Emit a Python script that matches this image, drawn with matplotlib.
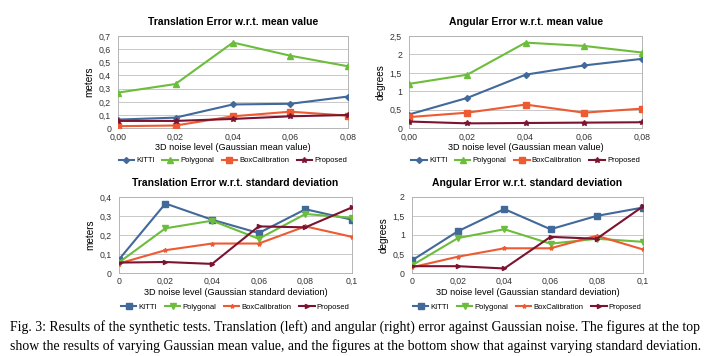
import matplotlib
matplotlib.use('Agg')
from matplotlib import pyplot as plt
from matplotlib.ticker import FuncFormatter

plt.rcParams['font.family'] = 'Liberation Sans'

# noise levels
x_mean = [0.00, 0.02, 0.04, 0.06, 0.08]
x_std = [0.0, 0.02, 0.04, 0.06, 0.08, 0.1]
methods = ['KITTI', 'Polygonal', 'BoxCalibration', 'Proposed']

# translation error (meters) vs mean
trans_mean_kitti = [0.065, 0.08, 0.18, 0.185, 0.24]
trans_mean_poly = [0.27, 0.335, 0.65, 0.55, 0.47]
trans_mean_box = [0.015, 0.02, 0.09, 0.125, 0.095]
trans_mean_prop = [0.055, 0.055, 0.07, 0.09, 0.10]

# angular error (degrees) vs mean
ang_mean_kitti = [0.37, 0.82, 1.45, 1.70, 1.88]
ang_mean_poly = [1.2, 1.45, 2.32, 2.23, 2.05]
ang_mean_box = [0.3, 0.42, 0.64, 0.42, 0.53]
ang_mean_prop = [0.18, 0.13, 0.14, 0.15, 0.16]

# translation error (meters) vs std
trans_std_kitti = [0.07, 0.365, 0.28, 0.21, 0.335, 0.28]
trans_std_poly = [0.055, 0.235, 0.275, 0.18, 0.31, 0.29]
trans_std_box = [0.05, 0.12, 0.155, 0.155, 0.245, 0.19]
trans_std_prop = [0.055, 0.058, 0.048, 0.245, 0.24, 0.345]

# angular error (degrees) vs std
ang_std_kitti = [0.33, 1.1, 1.68, 1.15, 1.5, 1.72]
ang_std_poly = [0.2, 0.92, 1.15, 0.77, 0.9, 0.82]
ang_std_box = [0.15, 0.43, 0.65, 0.65, 0.98, 0.62]
ang_std_prop = [0.18, 0.18, 0.12, 0.95, 0.9, 1.75]

colors = ['#41699a', '#6cbd3c', '#ee5a32', '#7a1430']
markers_top = ['D', '^', 's', '*']
msizes_top = [3, 4, 5, 4]
markers_bot = ['s', 'v', '*', '>']
msizes_bot = [5, 4, 3, 3]

def comma(dec):
    def f(v, pos):
        if dec is None:
            s = ('%.2f' % v).rstrip('0').rstrip('.')
        else:
            s = '%.*f' % (dec, v)
        return s.replace('.', ',')
    return FuncFormatter(f)

fig = plt.figure(figsize=(7.2, 3.56), dpi=100)

panels = [
    ([0.164, 0.640, 0.319, 0.259], x_mean,
     [trans_mean_kitti, trans_mean_poly, trans_mean_box, trans_mean_prop],
     'Translation Error w.r.t. mean value', 'meters', 0.7, 0.1,
     '3D noise level (Gaussian mean value)', True),
    ([0.568, 0.640, 0.324, 0.259], x_mean,
     [ang_mean_kitti, ang_mean_poly, ang_mean_box, ang_mean_prop],
     'Angular Error w.r.t. mean value', 'degrees', 2.5, 0.5,
     '3D noise level (Gaussian mean value)', True),
    ([0.165, 0.233, 0.324, 0.214], x_std,
     [trans_std_kitti, trans_std_poly, trans_std_box, trans_std_prop],
     'Translation Error w.r.t. standard deviation', 'meters', 0.4, 0.1,
     '3D noise level (Gaussian standard deviation)', False),
    ([0.572, 0.233, 0.321, 0.214], x_std,
     [ang_std_kitti, ang_std_poly, ang_std_box, ang_std_prop],
     'Angular Error w.r.t. standard deviation', 'degrees', 2.0, 0.5,
     '3D noise level (Gaussian standard deviation)', False),
]

for rect, xs, series, title, ylab, ymax, ystep, xlab, top in panels:
    ax = fig.add_axes(rect)
    mk = markers_top if top else markers_bot
    ms = msizes_top if top else msizes_bot
    for i, ys in enumerate(series):
        ax.plot(xs, ys, color=colors[i], lw=1.5, marker=mk[i], ms=ms[i],
                label=methods[i], zorder=3)
    ax.set_xlim(xs[0], xs[-1])
    ax.set_ylim(0, ymax)
    n = int(round(ymax / ystep))
    ax.set_yticks([k * ystep for k in range(n + 1)])
    ax.set_xticks(xs)
    ax.xaxis.set_major_formatter(comma(2 if top else None))
    ax.yaxis.set_major_formatter(comma(None))
    ax.grid(axis='y', color='#c8c8c8', lw=0.7)
    ax.set_axisbelow(True)
    for sp in ax.spines.values():
        sp.set_color('#b4b4b4')
        sp.set_linewidth(0.7)
    ax.tick_params(labelsize=6.3, length=0, colors='#333333')
    ax.tick_params(axis='x', pad=3)
    ax.tick_params(axis='y', pad=5)
    ax.set_title(title, fontsize=7.5, fontweight='bold', pad=8)
    ax.set_ylabel(ylab, fontsize=7.2, labelpad=3)
    ax.set_xlabel(xlab, fontsize=6.6, labelpad=1)
    ax.legend(loc='upper center', bbox_to_anchor=(0.5, -0.27 if top else -0.35),
              ncol=4, frameon=False, fontsize=5.5, handlelength=2.0,
              handletextpad=0.3, columnspacing=1.0, borderpad=0)

fig.text(0.014, 0.080,
         'Fig. 3: Results of the synthetic tests. Translation (left) and angular (right) error against Gaussian noise. The figures at the top',
         family='Liberation Serif', fontsize=9.9, ha='left', va='center')
fig.text(0.014, 0.028,
         'show the results of varying Gaussian mean value, and the figures at the bottom show that against varying standard deviation.',
         family='Liberation Serif', fontsize=9.9, ha='left', va='center')

fig.savefig('out.png', dpi=100)
